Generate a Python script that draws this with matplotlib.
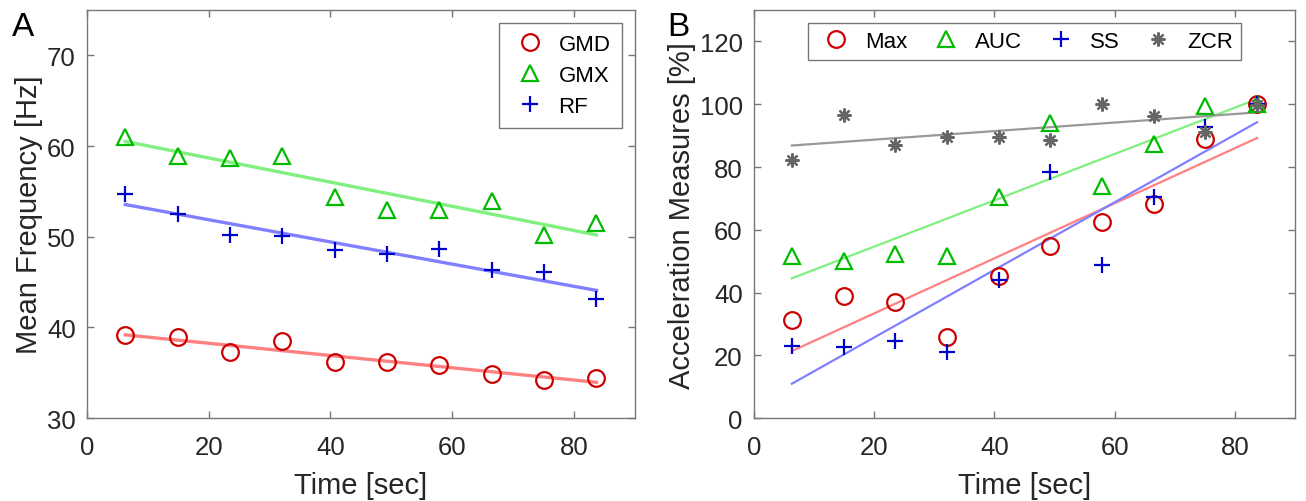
import numpy as np
import matplotlib
matplotlib.use('Agg')
import matplotlib.pyplot as plt

plt.rcParams['font.family'] = ['Liberation Sans', 'DejaVu Sans']

# sampling times (sec)
time = [6.3, 14.9, 23.5, 32.1, 40.7, 49.3, 57.9, 66.5, 75.1, 83.7]

# panel A: mean frequency [Hz]
gmd = [39.2, 38.9, 37.3, 38.5, 36.2, 36.2, 35.9, 34.9, 34.2, 34.4]
gmx = [61.0, 58.9, 58.7, 58.9, 54.4, 53.0, 53.0, 54.0, 50.2, 51.5]
rf = [54.7, 52.5, 50.2, 50.1, 48.5, 48.1, 48.6, 46.3, 46.1, 43.1]

# panel B: acceleration measures [%]
mx = [31.3, 38.8, 37.1, 25.8, 45.4, 55.0, 62.6, 68.2, 88.9, 100.0]
auc = [51.5, 50.2, 52.4, 51.5, 70.5, 94.0, 74.0, 87.3, 99.5, 100.0]
ss = [23.1, 22.8, 24.7, 21.2, 44.0, 78.5, 48.8, 70.3, 92.8, 100.0]
zcr = [82.3, 96.7, 87.1, 89.7, 89.7, 88.6, 100.1, 96.1, 91.2, 99.7]

RED, GREEN, BLUE, GRAY = '#cc0000', '#00bb00', '#0000cc', '#666666'
LRED, LGREEN, LBLUE, LGRAY = '#ff8080', '#80f080', '#8080ff', '#999999'


def fit_line(ax, x, y, color, lw):
    k, b = np.polyfit(x, y, 1)
    xs = np.array([x[0], x[-1]])
    ax.plot(xs, k * xs + b, color=color, lw=lw, zorder=1)


def style(ax):
    for s in ax.spines.values():
        s.set_color('#777777')
        s.set_linewidth(1.0)
    ax.tick_params(direction='in', length=5, width=1, color='#777777',
                   labelsize=18.5, labelcolor='#262626', top=True, right=True)
    ax.tick_params(axis='x', pad=12)
    ax.tick_params(axis='y', pad=8)
    ax.set_xlim(0, 90)
    ax.set_xticks([0, 20, 40, 60, 80])
    ax.set_xlabel('Time [sec]', fontsize=21, labelpad=9, color='#262626')


def legend(ax, anchor, loc, ncol, pad):
    leg = ax.legend(loc=loc, ncol=ncol, fontsize=16, frameon=True,
                    fancybox=False, edgecolor='#555555', borderpad=pad,
                    borderaxespad=0, handlelength=1.8, handletextpad=0.4,
                    labelspacing=0.45, columnspacing=0.85,
                    bbox_to_anchor=anchor)
    leg.get_frame().set_linewidth(1.0)
    return leg


fig = plt.figure(figsize=(13.06, 5.02), dpi=100)
axA = fig.add_axes([0.0666, 0.165, 0.4195, 0.813])
axB = fig.add_axes([0.5773, 0.165, 0.4143, 0.813])

mkw = dict(ls='none', ms=12, mew=1.6, mfc='none', zorder=3)

# A
fit_line(axA, time, gmd, LRED, 2.4)
fit_line(axA, time, gmx, LGREEN, 2.4)
fit_line(axA, time, rf, LBLUE, 2.4)
axA.plot(time, gmd, 'o', mec=RED, label='GMD', **mkw)
axA.plot(time, gmx, '^', mec=GREEN, label='GMX', **mkw)
axA.plot(time, rf, '+', mec=BLUE, label='RF', **mkw)
style(axA)
axA.set_ylim(30, 75)
axA.set_yticks([30, 40, 50, 60, 70])
axA.set_ylabel('Mean Frequency [Hz]', fontsize=21, labelpad=3, color='#262626')
legend(axA, (0.976, 0.968), 'upper right', 1, 0.5)

# B
fit_line(axB, time, mx, LRED, 1.6)
fit_line(axB, time, auc, LGREEN, 1.6)
fit_line(axB, time, ss, LBLUE, 1.6)
fit_line(axB, time, zcr, LGRAY, 1.6)
axB.plot(time, mx, 'o', mec=RED, label='Max', **mkw)
axB.plot(time, auc, '^', mec=GREEN, label='AUC', **mkw)
axB.plot(time, ss, '+', mec=BLUE, label='SS', **mkw)
axB.plot(time, zcr, ls='none', marker=(8, 2, 0), ms=10, mew=1.6,
         mec=GRAY, label='ZCR', zorder=3)
style(axB)
axB.set_ylim(0, 130)
axB.set_yticks(range(0, 121, 20))
axB.set_ylabel('Acceleration Measures [%]', fontsize=21, labelpad=3, color='#262626')
legend(axB, (0.5, 0.968), 'upper center', 4, 0.35)

fig.text(0.009, 0.928, 'A', fontsize=24)
fig.text(0.511, 0.928, 'B', fontsize=24)

fig.savefig('out.png', dpi=100)
